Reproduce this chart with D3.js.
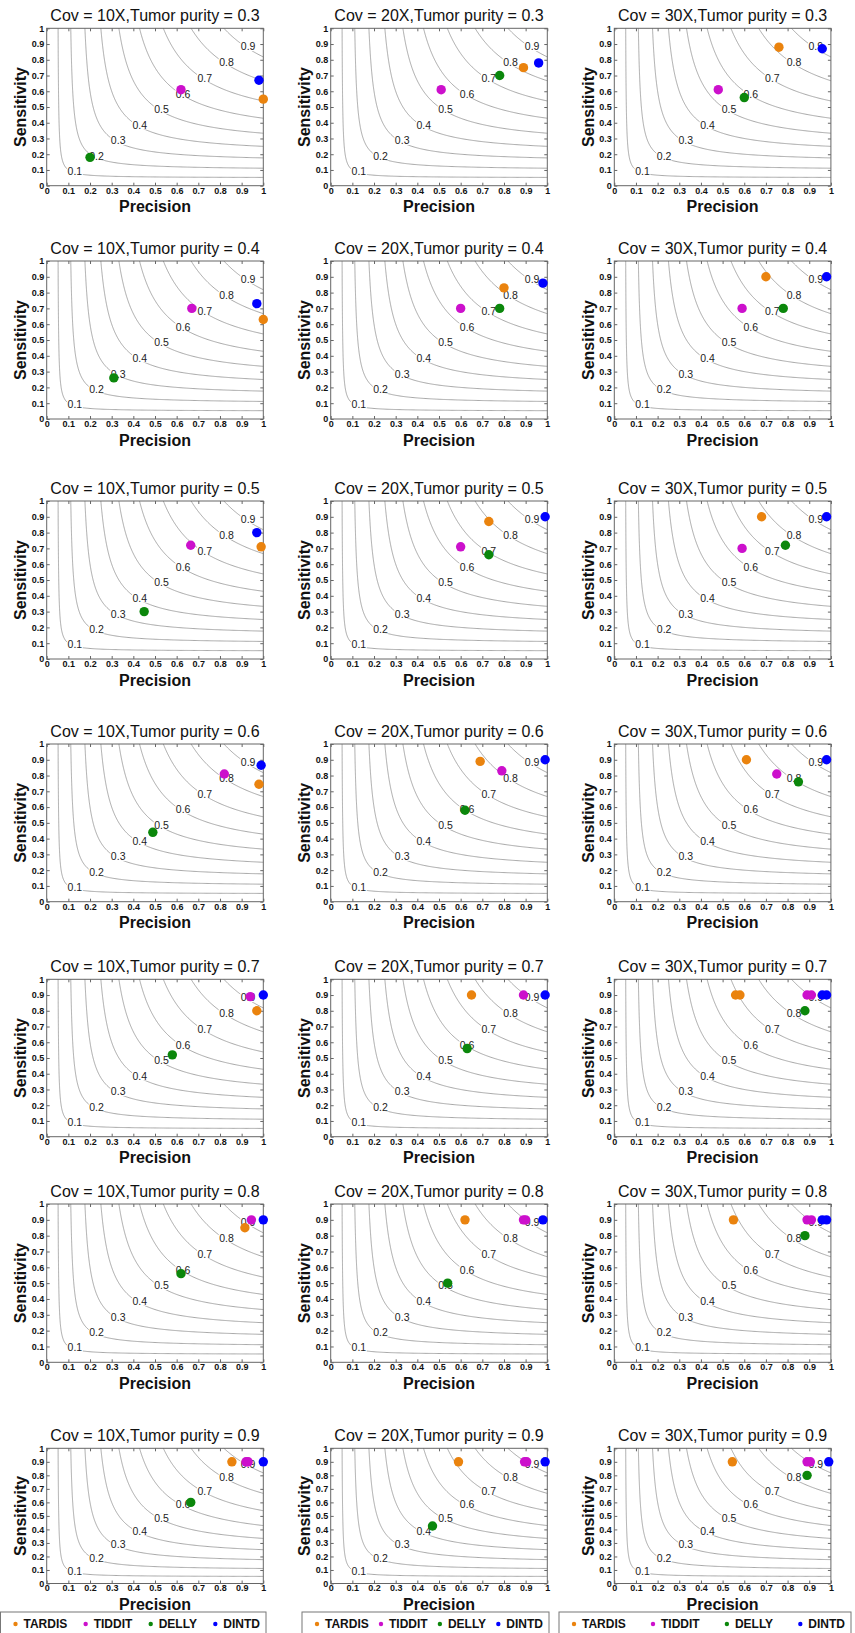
<!DOCTYPE html>
<html>
<head>
<meta charset="utf-8">
<script src="https://cdn.jsdelivr.net/npm/d3@7"></script>
<style>
body { margin: 0; background: #fff; }
svg text { font-family: Arial, "Liberation Sans", sans-serif; }
</style>
</head>
<body>
<div id="chart"></div>
<script>
//categories
const tools = ["TARDIS", "TIDDIT", "DELLY", "DINTD"];
const coverages = ["10X", "20X", "30X"];
const purities = [0.3, 0.4, 0.5, 0.6, 0.7, 0.8, 0.9];
const f1Levels = [0.1, 0.2, 0.3, 0.4, 0.5, 0.6, 0.7, 0.8, 0.9];
const tickValues = [0, 0.1, 0.2, 0.3, 0.4, 0.5, 0.6, 0.7, 0.8, 0.9, 1];
const tickLabels = ["0", "0.1", "0.2", "0.3", "0.4", "0.5", "0.6", "0.7", "0.8", "0.9", "1"];

//[precision, sensitivity] : one row per purity, one column per coverage
const tardis = [
	[[1.0, 0.55], [0.89, 0.75], [0.76, 0.88]],
	[[1.0, 0.63], [0.80, 0.83], [0.70, 0.90]],
	[[0.99, 0.71], [0.73, 0.87], [0.68, 0.90]],
	[[0.98, 0.745], [0.69, 0.89], [0.61, 0.90]],
	[[0.97, 0.80], [0.65, 0.90], [0.56, 0.90]],
	[[0.915, 0.85], [0.62, 0.90], [0.55, 0.90]],
	[[0.855, 0.90], [0.59, 0.90], [0.545, 0.90]]
];
const tiddit = [
	[[0.62, 0.61], [0.51, 0.61], [0.48, 0.61]],
	[[0.67, 0.70], [0.60, 0.70], [0.59, 0.70]],
	[[0.665, 0.72], [0.60, 0.71], [0.59, 0.70]],
	[[0.82, 0.81], [0.79, 0.83], [0.75, 0.81]],
	[[0.94, 0.89], [0.89, 0.90], [0.89, 0.90]],
	[[0.945, 0.90], [0.89, 0.90], [0.89, 0.90]],
	[[0.92, 0.90], [0.895, 0.90], [0.89, 0.90]]
];
const delly = [
	[[0.20, 0.18], [0.78, 0.70], [0.60, 0.56]],
	[[0.31, 0.26], [0.78, 0.70], [0.78, 0.70]],
	[[0.45, 0.30], [0.73, 0.66], [0.79, 0.72]],
	[[0.49, 0.44], [0.62, 0.58], [0.85, 0.76]],
	[[0.58, 0.52], [0.63, 0.56], [0.88, 0.80]],
	[[0.62, 0.56], [0.54, 0.50], [0.88, 0.80]],
	[[0.665, 0.60], [0.47, 0.425], [0.89, 0.80]]
];
const dintd = [
	[[0.98, 0.67], [0.96, 0.78], [0.96, 0.87]],
	[[0.97, 0.73], [0.98, 0.86], [0.98, 0.90]],
	[[0.97, 0.80], [0.99, 0.90], [0.98, 0.90]],
	[[0.99, 0.865], [0.99, 0.90], [0.98, 0.90]],
	[[1.0, 0.90], [0.99, 0.90], [0.96, 0.90]],
	[[1.0, 0.90], [0.98, 0.90], [0.96, 0.90]],
	[[1.0, 0.90], [0.99, 0.90], [0.99, 0.90]]
];
//second calls that nearly overlap the first one: [row, column, tool, precision, sensitivity]
const extraCalls = [
	[4, 2, "TARDIS", 0.58, 0.90],
	[4, 2, "TIDDIT", 0.91, 0.90],
	[4, 2, "DINTD", 0.98, 0.90],
	[5, 1, "TIDDIT", 0.90, 0.90],
	[5, 2, "TIDDIT", 0.91, 0.90],
	[5, 2, "DINTD", 0.98, 0.90],
	[6, 0, "TIDDIT", 0.93, 0.90],
	[6, 1, "TIDDIT", 0.905, 0.90],
	[6, 2, "TIDDIT", 0.905, 0.90]
];

const toolColors = {TARDIS: "#ea830e", TIDDIT: "#cc10cc", DELLY: "#0b870b", DINTD: "#0000ff"};
const seriesByTool = {TARDIS: tardis, TIDDIT: tiddit, DELLY: delly, DINTD: dintd};

//page layout
const width = 855, height = 1633;
const colLeft = [46.7, 330.7, 614.3];
const plotW = 216.6;
const rowTop = [28.3, 261, 501, 744, 979.3, 1204, 1448.3];
const rowH = [157.4, 158, 158, 157.7, 157.4, 158.3, 135.2];
const legendLeft = [0.5, 302, 559];
const legendRight = [266, 549, 851];

const svg = d3.select("#chart").append("svg")
	.attr("width", width)
	.attr("height", height);

//iso F1 curve: recall for a given precision
function isoRecall(f, p){
	return f * p / (2 * p - f);
}

function isoPoints(f){
	let pts = [];
	//steep part sampled by recall, flat part by precision
	d3.range(1, f, -0.005).forEach( r => pts.push([f * r / (2 * r - f), r]));
	d3.range(f, 1.0001, 0.005).forEach( p => pts.push([p, isoRecall(f, p)]));
	return pts;
}

function drawPanel(row, col){
	let left = colLeft[col], top = rowTop[row], ph = rowH[row];
	let x = d3.scaleLinear().domain([0, 1]).range([0, plotW]);
	let y = d3.scaleLinear().domain([0, 1]).range([ph, 0]);
	let g = svg.append("g").attr("transform", `translate(${left},${top})`);

	g.append("rect")
		.attr("width", plotW)
		.attr("height", ph)
		.attr("fill", "#fff");

	let line = d3.line().x(d => x(d[0])).y(d => y(d[1]));
	f1Levels.forEach( f => {
		g.append("path")
			.attr("d", line(isoPoints(f)))
			.attr("fill", "none")
			.attr("stroke", "#939393")
			.attr("stroke-width", 0.8);
	});

	//contour labels with a white patch so the line looks broken
	f1Levels.forEach( f => {
		let lp = f + 0.03;
		let lx = x(lp), ly = y(isoRecall(f, lp)) - 2;
		let bg = g.append("rect").attr("fill", "#fff");
		let t = g.append("text")
			.attr("x", lx)
			.attr("y", ly)
			.attr("text-anchor", "middle")
			.attr("dominant-baseline", "central")
			.attr("font-size", 10.5)
			.attr("fill", "#222")
			.text(String(f));
		let bb = t.node().getBBox();
		bg.attr("x", bb.x - 0.5).attr("y", bb.y + 1.5)
			.attr("width", bb.width + 1).attr("height", bb.height - 3);
	});

	//axes with inward ticks
	let fmt = (d, i) => tickLabels[i];
	g.append("g")
		.call(d3.axisLeft(y).tickValues(tickValues).tickFormat(fmt).tickSizeInner(-3).tickSizeOuter(0).tickPadding(2.5))
		.call(a => a.select(".domain").remove());
	g.append("g")
		.attr("transform", `translate(0,${ph})`)
		.call(d3.axisBottom(x).tickValues(tickValues).tickFormat(fmt).tickSizeInner(-3).tickSizeOuter(0).tickPadding(1.5))
		.call(a => a.select(".domain").remove());
	g.append("g")
		.call(d3.axisTop(x).tickValues(tickValues).tickFormat("").tickSizeInner(-3).tickSizeOuter(0))
		.call(a => a.select(".domain").remove());
	g.append("g")
		.attr("transform", `translate(${plotW},0)`)
		.call(d3.axisRight(y).tickValues(tickValues).tickFormat("").tickSizeInner(-3).tickSizeOuter(0))
		.call(a => a.select(".domain").remove());
	g.selectAll(".tick line").attr("stroke", "#666");
	g.selectAll(".tick text")
		.attr("font-size", 9)
		.attr("font-weight", "bold")
		.attr("font-family", "Arial, 'Liberation Sans', sans-serif")
		.attr("fill", "#111");

	g.append("rect")
		.attr("width", plotW)
		.attr("height", ph)
		.attr("fill", "none")
		.attr("stroke", "#666")
		.attr("stroke-width", 1);

	//calls
	let calls = [];
	tools.forEach( t => calls.push([t, seriesByTool[t][row][col][0], seriesByTool[t][row][col][1]]));
	extraCalls.filter(e => e[0] == row && e[1] == col)
		.forEach( e => calls.push([e[2], e[3], e[4]]));
	g.selectAll(".call")
		.data(calls)
		.enter()
		.append("circle")
		.attr("cx", d => x(d[1]))
		.attr("cy", d => y(d[2]))
		.attr("r", 4.7)
		.style("fill", d => toolColors[d[0]]);

	//titles
	g.append("text")
		.attr("x", plotW / 2)
		.attr("y", -7)
		.attr("text-anchor", "middle")
		.attr("font-size", 16)
		.attr("fill", "#111")
		.text(`Cov = ${coverages[col]},Tumor purity = ${purities[row]}`);
	g.append("text")
		.attr("transform", `translate(-26,${ph / 2}) rotate(-90)`)
		.attr("text-anchor", "middle")
		.attr("dominant-baseline", "central")
		.attr("font-size", 16)
		.attr("font-weight", "bold")
		.attr("fill", "#111")
		.text("Sensitivity");
	g.append("text")
		.attr("x", plotW / 2)
		.attr("y", ph + 21)
		.attr("text-anchor", "middle")
		.attr("dominant-baseline", "central")
		.attr("font-size", 16)
		.attr("font-weight", "bold")
		.attr("fill", "#111")
		.text("Precision");
}

function drawLegend(col){
	let bx = legendLeft[col], bw = legendRight[col] - legendLeft[col], by = 1612;
	let g = svg.append("g").attr("transform", `translate(${bx},${by})`);
	g.append("rect")
		.attr("width", bw)
		.attr("height", 30)
		.attr("fill", "#fff")
		.attr("stroke", "#777");
	//measure the labels first, then spread the entries over the box
	let items = tools.map( t => {
		let txt = g.append("text")
			.attr("y", 12)
			.attr("dominant-baseline", "central")
			.attr("font-size", 12)
			.attr("font-weight", "bold")
			.attr("fill", "#111")
			.text(t);
		return {t: t, node: txt, w: txt.node().getComputedTextLength()};
	});
	let used = d3.sum(items, d => d.w + 9);
	let gap = (bw - 15 - 5 - used) / (items.length - 1);
	let cx = 15;
	items.forEach( d => {
		g.append("circle")
			.attr("cx", cx)
			.attr("cy", 12)
			.attr("r", 2.2)
			.style("fill", toolColors[d.t]);
		d.node.attr("x", cx + 8);
		cx += 9 + d.w + gap;
	});
}

purities.forEach( (p, row) => {
	coverages.forEach( (c, col) => drawPanel(row, col));
});
coverages.forEach( (c, col) => drawLegend(col));
</script>
</body>
</html>
